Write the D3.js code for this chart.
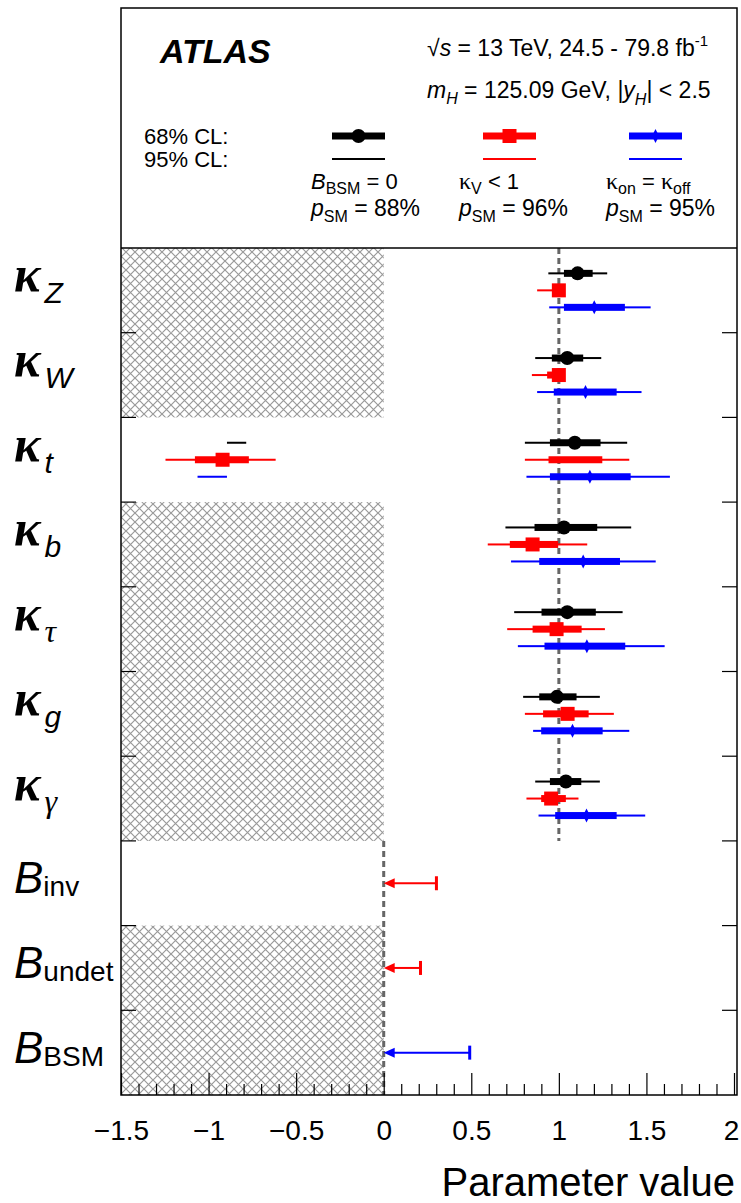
<!DOCTYPE html>
<html>
<head>
<meta charset="utf-8">
<script src="https://cdn.jsdelivr.net/npm/d3@7"></script>
<style>
  body { margin: 0; background: #fff; }
  svg text { font-family: "Liberation Sans", Arial, sans-serif; }
</style>
</head>
<body>
<svg id="chart" width="741" height="1203"></svg>
<script>
// parameters, top to bottom
const paramSym = ["κ", "κ", "κ", "κ", "κ", "κ", "κ", "B", "B", "B"];
const paramSub = ["Z", "W", "t", "b", "τ", "g", "γ", "inv", "undet", "BSM"];
const hatched = [true, true, false, true, true, true, true, false, true, true];

// [central, lo68, hi68, lo95, hi95], null where not fitted
const bsmZero = [
    [1.107, 1.029, 1.193, 0.940, 1.276],
    [1.048, 0.960, 1.139, 0.865, 1.242],
    [1.091, 0.949, 1.238, 0.806, 1.390],
    [1.029, 0.861, 1.219, 0.695, 1.413],
    [1.048, 0.901, 1.211, 0.745, 1.364],
    [0.989, 0.888, 1.101, 0.796, 1.234],
    [1.040, 0.949, 1.128, 0.865, 1.234],
    null, null, null
];
const kvBelowOne = [
    [1.000, 0.970, 1.000, 0.876, 1.000],
    [1.000, 0.933, 1.000, 0.846, 1.000],
    [-0.920, -1.078, -0.770, -1.246, -0.617],
    [0.850, 0.720, 0.996, 0.594, 1.162],
    [0.987, 0.850, 1.130, 0.705, 1.263],
    [1.050, 0.910, 1.170, 0.806, 1.314],
    [0.956, 0.899, 1.040, 0.815, 1.112],
    null, null, null
];
const kOnOff = [
    [1.202, 1.029, 1.377, 0.945, 1.524],
    [1.152, 0.971, 1.330, 0.876, 1.472],
    [1.177, 0.949, 1.410, 0.815, 1.634],
    [1.139, 0.888, 1.349, 0.727, 1.553],
    [1.160, 0.918, 1.379, 0.766, 1.604],
    [1.078, 0.899, 1.250, 0.853, 1.402],
    [1.158, 0.979, 1.330, 0.884, 1.493],
    null, null, null
];

// extra intervals with no marker (second minimum for kappa_t)
// [model, param index, cl, lo, hi]
const extraIntervals = [
    [0, 2, 95, -0.895, -0.785],
    [1, 2, 68, 0.941, 1.248],
    [1, 2, 95, 0.806, 1.402],
    [2, 2, 95, -1.063, -0.895]
];

// 95% CL upper limits on branching ratios: [model, param index, limit]
const upperLimits = [
    [1, 7, 0.301],
    [1, 8, 0.210],
    [2, 9, 0.491]
];

const modelColors = ["#000000", "#ff0000", "#0000ff"];
const modelLabels = [["B", "BSM", " = 0"], ["κ", "V", " < 1"], ["κ", "on", " = κ", "off"]];
const pValues = ["88%", "96%", "95%"];
const xTicksMajor = [-1.5, -1, -0.5, 0, 0.5, 1, 1.5, 2];

const svg = d3.select("#chart");
const frameLeft = 121, frameRight = 737, frameTop = 8, legendBottom = 248, frameBottom = 1095;

const x = d3.scaleLinear().domain([-1.5, 2]).range([frameLeft, frameRight - 3]);
const y = d3.scaleBand().domain(d3.range(paramSub.length)).range([legendBottom, frameBottom]);
const offsets = [-17, 0, 17];

// hatch pattern
const defs = svg.append("defs");
const pat = defs.append("pattern")
    .attr("id", "hatch")
    .attr("patternUnits", "userSpaceOnUse")
    .attr("width", 9).attr("height", 9);
pat.append("path").attr("d", "M0,0 L9,9 M9,0 L0,9")
    .attr("stroke", "#999").attr("stroke-width", 1.2).attr("fill", "none");

// hatched regions
hatched.forEach((h, i) => {
    if (!h) return;
    svg.append("rect")
        .attr("x", x(-1.5)).attr("y", y(i))
        .attr("width", x(0) - x(-1.5)).attr("height", y.bandwidth())
        .attr("fill", "url(#hatch)");
});

// SM reference lines
svg.append("line")
    .attr("x1", x(1)).attr("x2", x(1))
    .attr("y1", legendBottom).attr("y2", y(7))
    .attr("stroke", "#666").attr("stroke-width", 3).attr("stroke-dasharray", "6,4");
svg.append("line")
    .attr("x1", x(0)).attr("x2", x(0))
    .attr("y1", y(7)).attr("y2", frameBottom)
    .attr("stroke", "#666").attr("stroke-width", 3).attr("stroke-dasharray", "6,4");

// marker drawing
function drawMarker(g, model, cx, cy) {
    if (model === 0) {
        g.append("circle").attr("cx", cx).attr("cy", cy).attr("r", 7).attr("fill", modelColors[0]);
    } else if (model === 1) {
        g.append("rect").attr("x", cx - 7).attr("y", cy - 7)
            .attr("width", 14).attr("height", 14).attr("fill", modelColors[1]);
    } else {
        g.append("path")
            .attr("d", `M${cx},${cy - 7} L${cx + 3.5},${cy} L${cx},${cy + 7} L${cx - 3.5},${cy} Z`)
            .attr("fill", modelColors[2]);
    }
}

function drawInterval(g, model, cl, lo, hi, cy) {
    const h = cl === 68 ? 7 : 2;
    g.append("rect")
        .attr("x", x(lo)).attr("y", cy - h / 2)
        .attr("width", Math.max(x(hi) - x(lo), 0)).attr("height", h)
        .attr("fill", modelColors[model]);
}

const marks = svg.append("g");
[bsmZero, kvBelowOne, kOnOff].forEach((series, m) => {
    series.forEach((d, i) => {
        if (!d) return;
        const cy = y(i) + y.bandwidth() / 2 + offsets[m];
        drawInterval(marks, m, 95, d[3], d[4], cy);
        drawInterval(marks, m, 68, d[1], d[2], cy);
        drawMarker(marks, m, x(d[0]), cy);
    });
});
extraIntervals.forEach(([m, i, cl, lo, hi]) => {
    const cy = y(i) + y.bandwidth() / 2 + offsets[m];
    drawInterval(marks, m, cl, lo, hi, cy);
});

// upper limits: arrow pointing to zero with end bar
upperLimits.forEach(([m, i, lim]) => {
    const cy = y(i) + y.bandwidth() / 2;
    const c = modelColors[m];
    marks.append("line")
        .attr("x1", x(0) + 6).attr("x2", x(lim))
        .attr("y1", cy).attr("y2", cy)
        .attr("stroke", c).attr("stroke-width", 2);
    marks.append("path")
        .attr("d", `M${x(0)},${cy} L${x(0) + 11},${cy - 5} L${x(0) + 11},${cy + 5} Z`)
        .attr("fill", c);
    marks.append("line")
        .attr("x1", x(lim)).attr("x2", x(lim))
        .attr("y1", cy - 7).attr("y2", cy + 7)
        .attr("stroke", c).attr("stroke-width", 3);
});

// x axis with inward ticks
const minor = d3.range(-15, 21).map(v => v / 10).filter(v => Math.abs(v * 2 - Math.round(v * 2)) > 1e-6);
svg.append("g")
    .attr("transform", `translate(0,${frameBottom})`)
    .call(d3.axisBottom(x).tickValues(minor).tickSize(-11).tickFormat(""))
    .call(g => g.select(".domain").remove())
    .call(g => g.selectAll("line").attr("stroke", "#000").attr("stroke-width", 1.2));
svg.append("g")
    .attr("transform", `translate(0,${frameBottom})`)
    .call(d3.axisBottom(x).tickValues(xTicksMajor).tickSize(-22).tickPadding(25)
        .tickFormat(d => d3.format("~g")(d)))
    .call(g => g.select(".domain").remove())
    .call(g => g.selectAll("line").attr("stroke", "#000").attr("stroke-width", 1.2))
    .call(g => g.selectAll("text").attr("font-size", 28).attr("fill", "#000")
        .attr("font-family", "Liberation Sans, Arial, sans-serif"))
    .call(g => g.selectAll(".tick").filter(d => d === 2).select("text").attr("dx", -3));

svg.append("text")
    .attr("x", frameRight - 2).attr("y", 1196)
    .attr("text-anchor", "end")
    .attr("font-size", 40)
    .text("Parameter value");

// row boundary ticks, left and right
d3.range(1, paramSub.length).forEach(i => {
    const yy = y(i);
    svg.append("line").attr("x1", frameLeft).attr("x2", frameLeft + 15).attr("y1", yy).attr("y2", yy)
        .attr("stroke", "#000").attr("stroke-width", 1.2);
    svg.append("line").attr("x1", frameRight - 15).attr("x2", frameRight).attr("y1", yy).attr("y2", yy)
        .attr("stroke", "#000").attr("stroke-width", 1.2);
});

// frames
svg.append("rect")
    .attr("x", frameLeft).attr("y", frameTop)
    .attr("width", frameRight - frameLeft).attr("height", frameBottom - frameTop)
    .attr("fill", "none").attr("stroke", "#000").attr("stroke-width", 1.5);
svg.append("line")
    .attr("x1", frameLeft).attr("x2", frameRight).attr("y1", legendBottom).attr("y2", legendBottom)
    .attr("stroke", "#000").attr("stroke-width", 1.5);

// y labels
paramSub.forEach((sub, i) => {
    const cy = y(i) + y.bandwidth() / 2;
    const t = svg.append("text").attr("x", 14);
    if (paramSym[i] === "κ") {
        t.attr("y", cy + 1);
        t.append("tspan").text("κ")
            .attr("font-family", "Liberation Serif, Times New Roman, serif")
            .attr("font-style", "italic").attr("font-weight", "bold").attr("font-size", 50);
        const greek = sub === "τ" || sub === "γ";
        t.append("tspan").text(sub).attr("dx", 4).attr("dy", 12)
            .attr("font-family", greek ? "Liberation Serif, serif" : "Liberation Sans, Arial, sans-serif")
            .attr("font-style", "italic").attr("font-size", greek ? 32 : 30);
    } else {
        t.attr("y", cy + 10);
        t.append("tspan").text("B").attr("font-style", "italic").attr("font-size", 44);
        t.append("tspan").text(sub).attr("dy", 3).attr("font-size", 28);
    }
});

// legend
svg.append("text")
    .attr("x", 160).attr("y", 63)
    .attr("font-size", 34).attr("font-weight", "bold").attr("font-style", "italic")
    .text("ATLAS");

const line1 = svg.append("text").attr("x", 427).attr("y", 56).attr("font-size", 23);
line1.append("tspan").text("√");
line1.append("tspan").text("s").attr("font-style", "italic");
line1.append("tspan").text(" = 13 TeV, 24.5 - 79.8 fb");
line1.append("tspan").text("-1").attr("font-size", 15).attr("dy", -10);

const line2 = svg.append("text").attr("x", 427).attr("y", 98).attr("font-size", 23);
line2.append("tspan").text("m").attr("font-style", "italic");
line2.append("tspan").text("H").attr("font-style", "italic").attr("font-size", 16).attr("dy", 6);
line2.append("tspan").text(" = 125.09 GeV, |").attr("dy", -6);
line2.append("tspan").text("y").attr("font-style", "italic");
line2.append("tspan").text("H").attr("font-style", "italic").attr("font-size", 16).attr("dy", 7);
line2.append("tspan").text("| < 2.5").attr("dy", -7);

svg.append("text").attr("x", 144).attr("y", 144).attr("font-size", 22).text("68% CL:");
svg.append("text").attr("x", 144).attr("y", 167).attr("font-size", 22).text("95% CL:");

const legendX = [332, 483, 629];
const labelX = [311, 459, 606];
legendX.forEach((lx, m) => {
    const g = svg.append("g");
    g.append("rect").attr("x", lx).attr("y", 132.5).attr("width", 53).attr("height", 7).attr("fill", modelColors[m]);
    drawMarker(g, m, lx + 26.5, 136);
    g.append("rect").attr("x", lx).attr("y", 158).attr("width", 53).attr("height", 2).attr("fill", modelColors[m]);

    const lab = modelLabels[m];
    const t = svg.append("text").attr("x", labelX[m]).attr("y", 189).attr("font-size", 22);
    if (m === 0) {
        t.append("tspan").text(lab[0]).attr("font-style", "italic");
    } else {
        t.append("tspan").text(lab[0]).attr("font-family", "Liberation Serif, serif").attr("font-size", 24);
    }
    t.append("tspan").text(lab[1]).attr("font-size", 16).attr("dy", 5);
    if (lab.length === 4) {
        t.append("tspan").text(" = ").attr("dy", -5);
        t.append("tspan").text("κ").attr("font-family", "Liberation Serif, serif").attr("font-size", 24);
        t.append("tspan").text(lab[3]).attr("font-size", 16).attr("dy", 5);
    } else {
        t.append("tspan").text(lab[2]).attr("dy", -5);
    }

    const p = svg.append("text").attr("x", labelX[m]).attr("y", 216).attr("font-size", 23);
    p.append("tspan").text("p").attr("font-style", "italic");
    p.append("tspan").text("SM").attr("font-size", 16).attr("dy", 6);
    p.append("tspan").text(" = " + pValues[m]).attr("dy", -6);
});
</script>
</body>
</html>
